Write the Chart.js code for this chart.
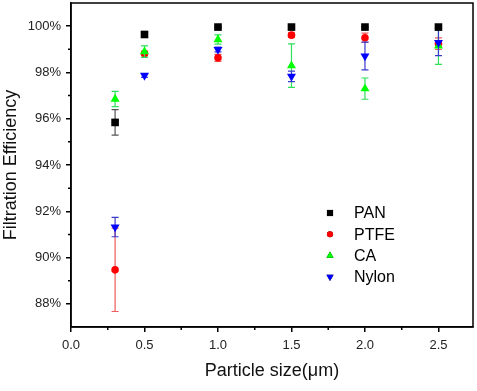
<!DOCTYPE html>
<html>
<head>
<meta charset="utf-8">
<script src="https://cdn.jsdelivr.net/npm/chart.js@4/dist/chart.umd.min.js"></script>
<style>
  html, body { margin: 0; padding: 0; background: #fff; }
  #wrap { width: 477px; height: 391px; }
</style>
</head>
<body>
<div id="wrap"><canvas id="c"></canvas></div>
<script>
// particle sizes (um) and filtration efficiency (%)
const sizes = [0.3, 0.5, 1.0, 1.5, 2.0, 2.5];

const panVals   = [95.84, 99.64, 99.96, 99.96, 99.96, 99.96];
const panErr    = [0.55, 0.05, 0.03, 0.03, 0.03, 0.06];
const ptfeVals  = [89.47, 98.82, 98.63, 99.61, 99.50, 99.24];
const ptfeErr   = [1.80, 0.10, 0.15, 0.10, 0.20, 0.25];
const caVals    = [96.85, 98.90, 99.42, 98.29, 97.30, 99.15];
const caErr     = [0.33, 0.25, 0.20, 0.94, 0.46, 0.80];
const nylonVals = [91.32, 97.87, 98.99, 97.83, 98.71, 99.29];
const nylonErr  = [0.42, 0.08, 0.10, 0.23, 0.60, 0.56];

const xTicks = [0, 0.5, 1.0, 1.5, 2.0, 2.5];
const xMinor = [0.25, 0.75, 1.25, 1.75, 2.25];
const yTicks = [88, 90, 92, 94, 96, 98, 100];
const yMinor = [89, 91, 93, 95, 97, 99];

const FONT = 'Arial, "Liberation Sans", sans-serif';

function pts(vals){ return sizes.map((s, i) => ({ x: s, y: vals[i] })); }

const datasets = [
  { label: 'PAN',   data: pts(panVals),   err: panErr,   errColor: '#555555',
    pointStyle: 'rect', pointRadius: 5.4, backgroundColor: '#000000', borderColor: '#000000', order: 0 },
  { label: 'PTFE',  data: pts(ptfeVals),  err: ptfeErr,  errColor: '#f05a5a',
    pointStyle: 'circle', pointRadius: 3.8, backgroundColor: '#ff0000', borderColor: '#ff0000', order: 3 },
  { label: 'CA',    data: pts(caVals),    err: caErr,    errColor: '#2ee05a',
    pointStyle: 'triangle', pointRadius: 5.2, backgroundColor: '#00ff00', borderColor: '#00ff00', order: 2 },
  { label: 'Nylon', data: pts(nylonVals), err: nylonErr, errColor: '#3a3ad0',
    pointStyle: 'triangle', rotation: 180, pointRadius: 5.2, backgroundColor: '#0000ff', borderColor: '#0000ff', order: 1 }
];
datasets.forEach(d => { d.borderWidth = 0; d.pointHoverRadius = d.pointRadius; d.pointRotation = d.rotation || 0; });

// error bars drawn just before each dataset's own markers
const errorBars = {
  id: 'errorBars',
  beforeDatasetDraw(chart, args){
    const ds = chart.data.datasets[args.index];
    const xs = chart.scales.x, ys = chart.scales.y;
    const ctx = chart.ctx;
    ctx.save();
    ctx.strokeStyle = ds.errColor;
    ctx.lineWidth = 1.2;
    ds.data.forEach((p, i) => {
      const px = xs.getPixelForValue(p.x);
      const top = ys.getPixelForValue(p.y + ds.err[i]);
      const bot = ys.getPixelForValue(p.y - ds.err[i]);
      ctx.beginPath();
      ctx.moveTo(px, top); ctx.lineTo(px, bot);
      ctx.moveTo(px - 3.5, top); ctx.lineTo(px + 3.5, top);
      ctx.moveTo(px - 3.5, bot); ctx.lineTo(px + 3.5, bot);
      ctx.stroke();
    });
    ctx.restore();
  }
};

// frame, minor ticks and the in-plot legend
const frame = {
  id: 'frame',
  afterDraw(chart){
    const { ctx, chartArea: a } = chart;
    const xs = chart.scales.x, ys = chart.scales.y;
    ctx.save();
    ctx.strokeStyle = '#000';
    ctx.lineWidth = 1.5;
    ctx.strokeRect(a.left, a.top, a.right - a.left, a.bottom - a.top);
    ctx.beginPath();
    xMinor.forEach(v => {
      const px = xs.getPixelForValue(v);
      ctx.moveTo(px, a.bottom); ctx.lineTo(px, a.bottom + 3);
    });
    yMinor.forEach(v => {
      const py = ys.getPixelForValue(v);
      ctx.moveTo(a.left, py); ctx.lineTo(a.left - 3, py);
    });
    ctx.stroke();

    // legend
    const lx = 330, tx = 354, ly = 213, step = 21.3;
    ctx.font = '16px ' + FONT;
    ctx.textBaseline = 'middle';
    ctx.fillStyle = '#000';
    chart.data.datasets.forEach((ds, i) => {
      const y = ly + i * step;
      Chart.helpers.drawPoint(ctx, {
        pointStyle: ds.pointStyle,
        rotation: ds.rotation || 0,
        radius: ds.pointRadius * 0.8,
        borderWidth: 0
      }, lx, y);
      ctx.fillStyle = ds.backgroundColor;
      ctx.fill();
      ctx.fillStyle = '#000';
      ctx.fillText(ds.label, tx, y + 1);
    });
    ctx.restore();
  }
};

new Chart(document.getElementById('c'), {
  type: 'scatter',
  data: { datasets },
  plugins: [errorBars, frame],
  options: {
    responsive: true,
    maintainAspectRatio: false,
    animation: false,
    layout: { autoPadding: false, padding: { top: 3, right: 4, left: 0, bottom: 0 } },
    plugins: { legend: { display: false }, tooltip: { enabled: false } },
    scales: {
      x: {
        type: 'linear',
        min: 0, max: 2.735,
        afterBuildTicks: s => { s.ticks = xTicks.map(v => ({ value: v })); },
        afterFit: s => { s.height = 64; s.paddingLeft = 0; s.paddingRight = 0; },
        border: { color: '#000', width: 1.5 },
        grid: { drawOnChartArea: false, drawTicks: true, tickLength: 5, color: '#000', lineWidth: 1.5 },
        ticks: { font: { family: FONT, size: 13 }, color: '#222', padding: 6,
                 callback: v => v.toFixed(1), maxRotation: 0 },
        title: { display: true, text: 'Particle size(\u03bcm)', color: '#111',
                 font: { family: FONT, size: 18 }, padding: { top: 0, bottom: 9 } }
      },
      y: {
        min: 87, max: 101,
        afterBuildTicks: s => { s.ticks = yTicks.map(v => ({ value: v })); },
        afterFit: s => { s.width = 71; s.paddingTop = 0; s.paddingBottom = 0; },
        border: { color: '#000', width: 1.5 },
        grid: { drawOnChartArea: false, drawTicks: true, tickLength: 5, color: '#000', lineWidth: 1.5 },
        ticks: { font: { family: FONT, size: 13 }, color: '#222', padding: 5,
                 callback: v => v + '%' },
        title: { display: true, text: 'Filtration Efficiency', color: '#111',
                 font: { family: FONT, size: 18 }, padding: { top: 0, bottom: 0 } }
      }
    }
  }
});
</script>
</body>
</html>
